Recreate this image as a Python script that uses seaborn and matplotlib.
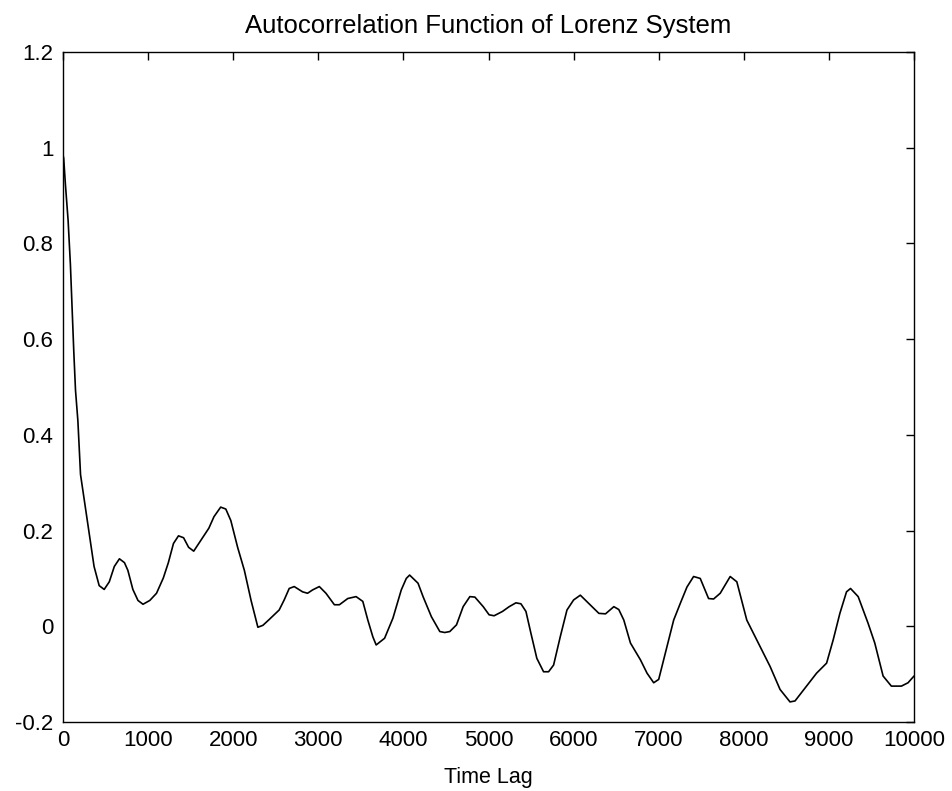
import matplotlib
matplotlib.use("Agg")
import matplotlib.pyplot as plt
import numpy as np
import pandas as pd
import seaborn as sns

# Autocorrelation of the Lorenz x-component, sampled at a set of lags
lag = [0, 8, 28, 60, 87, 107, 127, 147, 175, 206, 246, 306, 365, 425, 484,
       544, 603, 663, 722, 762, 821, 881, 940, 1020, 1099, 1179, 1238, 1298,
       1357, 1417, 1476, 1536, 1595, 1655, 1714, 1774, 1853, 1913, 1972, 2052,
       2131, 2210, 2290, 2349, 2422, 2540, 2599, 2658, 2717, 2815, 2874, 2933,
       3012, 3090, 3189, 3248, 3346, 3444, 3523, 3582, 3641, 3680, 3779, 3877,
       3975, 4034, 4073, 4172, 4231, 4329, 4428, 4486, 4545, 4624, 4702, 4781,
       4840, 4938, 5007, 5066, 5164, 5243, 5322, 5381, 5440, 5499, 5568, 5647,
       5706, 5765, 5843, 5922, 6000, 6079, 6199, 6297, 6375, 6473, 6531, 6590,
       6668, 6785, 6863, 6941, 7000, 7098, 7176, 7254, 7332, 7410, 7488, 7586,
       7645, 7723, 7840, 7918, 8035, 8191, 8309, 8426, 8543, 8602, 8738, 8855,
       8973, 9051, 9129, 9207, 9254, 9344, 9461, 9539, 9637, 9734, 9852, 9930,
       10000]
acf = [0.985, 0.978, 0.924, 0.848, 0.756, 0.665, 0.573, 0.493, 0.429, 0.317,
       0.269, 0.197, 0.125, 0.085, 0.077, 0.093, 0.125, 0.141, 0.133, 0.117,
       0.077, 0.054, 0.046, 0.054, 0.069, 0.101, 0.133, 0.173, 0.189, 0.185,
       0.165, 0.157, 0.173, 0.189, 0.205, 0.229, 0.249, 0.245, 0.221, 0.165,
       0.117, 0.054, -0.002, 0.002, 0.014, 0.034, 0.055, 0.079, 0.083, 0.072,
       0.069, 0.076, 0.083, 0.069, 0.045, 0.045, 0.058, 0.062, 0.052, 0.013,
       -0.022, -0.039, -0.025, 0.017, 0.076, 0.100, 0.107, 0.090, 0.062, 0.020,
       -0.011, -0.013, -0.011, 0.003, 0.041, 0.062, 0.061, 0.041, 0.024, 0.022,
       0.031, 0.041, 0.049, 0.047, 0.031, -0.015, -0.067, -0.095, -0.095,
       -0.081, -0.022, 0.034, 0.055, 0.065, 0.044, 0.027, 0.026, 0.041, 0.035,
       0.013, -0.035, -0.070, -0.098, -0.118, -0.111, -0.042, 0.013, 0.048,
       0.082, 0.104, 0.100, 0.058, 0.057, 0.069, 0.104, 0.093, 0.013, -0.042,
       -0.084, -0.132, -0.158, -0.156, -0.125, -0.098, -0.077, -0.028, 0.027,
       0.072, 0.079, 0.062, 0.006, -0.035, -0.104, -0.125, -0.125, -0.118,
       -0.104]

x_ticks = list(range(0, 10001, 1000))
x_tick_labels = [str(t) for t in x_ticks]
y_ticks = [-0.2, 0, 0.2, 0.4, 0.6, 0.8, 1.0, 1.2]
y_tick_labels = ["-0.2", "0", "0.2", "0.4", "0.6", "0.8", "1", "1.2"]

df = pd.DataFrame({"lag": lag, "acf": acf})

sns.set_style("white")
plt.rcParams["font.family"] = ["Liberation Sans", "DejaVu Sans"]
plt.rcParams["text.color"] = "black"
plt.rcParams["axes.labelcolor"] = "black"

fig = plt.figure(figsize=(9.52, 7.91), dpi=100)
ax = fig.add_axes([63 / 952, 1 - 722 / 791, (914 - 63) / 952, (722 - 52) / 791])

sns.lineplot(data=df, x="lag", y="acf", ax=ax, color="black", linewidth=1.2)

ax.set_xlim(0, 10000)
ax.set_ylim(-0.2, 1.2)
ax.set_xticks(x_ticks)
ax.set_xticklabels(x_tick_labels)
ax.set_yticks(y_ticks)
ax.set_yticklabels(y_tick_labels)

for s in ax.spines.values():
    s.set_visible(True)
    s.set_color("black")
    s.set_linewidth(1.0)

ax.tick_params(direction="in", length=6, width=1.0, top=True, right=True,
               labelsize=16, colors="black")
ax.tick_params(axis="y", pad=7)
ax.tick_params(axis="x", pad=6)
ax.set_xlabel("Time Lag", fontsize=15.5, labelpad=11, color="black")
ax.set_ylabel("")
ax.set_title("Autocorrelation Function of Lorenz System", fontsize=18.5, pad=14,
             color="black")

fig.savefig("out.png", dpi=100)
